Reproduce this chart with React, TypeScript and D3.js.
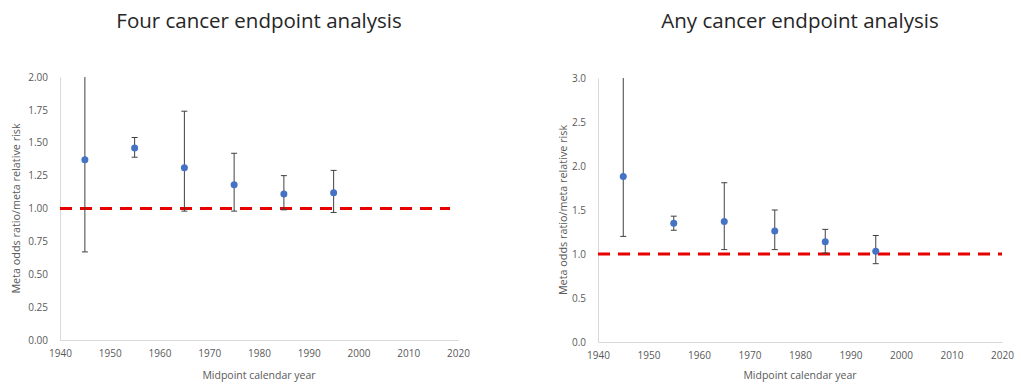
import React from "react";
import * as d3 from "d3";

// midpoint years of each decade
const years = [1945, 1955, 1965, 1975, 1985, 1995];

// four cancer endpoint analysis
const fourEstimate = [1.37, 1.46, 1.31, 1.18, 1.11, 1.12];
const fourLower = [0.67, 1.39, 0.98, 0.98, 0.99, 0.97];
const fourUpper = [2.0, 1.54, 1.74, 1.42, 1.25, 1.29];

// any cancer endpoint analysis
const anyEstimate = [1.88, 1.35, 1.37, 1.26, 1.14, 1.03];
const anyLower = [1.2, 1.27, 1.05, 1.05, 1.01, 0.89];
const anyUpper = [3.0, 1.43, 1.81, 1.5, 1.28, 1.21];

const xTicks = [1940, 1950, 1960, 1970, 1980, 1990, 2000, 2010, 2020];
const fourYTicks = [0, 0.25, 0.5, 0.75, 1, 1.25, 1.5, 1.75, 2];
const anyYTicks = [0, 0.5, 1, 1.5, 2, 2.5, 3];

const FONT = "'Open Sans', sans-serif";

type PanelProps = {
  title: string;
  left: number;
  right: number;
  top: number;
  bottom: number;
  yMax: number;
  yTicks: number[];
  yFormat: string;
  est: number[];
  lo: number[];
  hi: number[];
  labelX: number;
  refEnd: number;
};

const Panel = ({ title, left, right, top, bottom, yMax, yTicks, yFormat, est, lo, hi, labelX, refEnd }: PanelProps) => {
  const gRef = React.useRef<SVGGElement>(null);

  const x = d3.scaleLinear().domain([1940, 2020]).range([left, right]);
  const y = d3.scaleLinear().domain([0, yMax]).range([bottom, top]);

  React.useEffect(() => {
    const g = d3.select(gRef.current);
    g.selectAll("*").remove();

    const xAxis = g
      .append("g")
      .attr("transform", `translate(0,${bottom})`)
      .call(d3.axisBottom(x).tickValues(xTicks).tickSize(0).tickPadding(10).tickFormat(d3.format("d")));
    xAxis.select(".domain").attr("stroke", "#d9d9d9");

    const yAxis = g
      .append("g")
      .attr("transform", `translate(${left},0)`)
      .call(d3.axisLeft(y).tickValues(yTicks).tickSize(0).tickPadding(12).tickFormat(d3.format(yFormat)));
    yAxis.select(".domain").attr("stroke", "#d9d9d9");

    g.selectAll(".tick text")
      .attr("fill", "#595959")
      .attr("font-family", FONT)
      .attr("font-size", "10px");
  }, []);

  const cap = 3;

  return (
    <g>
      <text x={(left + right) / 2} y={28} textAnchor="middle" fontFamily={FONT} fontSize={20.5} fill="#262626">
        {title}
      </text>
      <g ref={gRef} />
      <line
        x1={x(1940)}
        x2={x(refEnd)}
        y1={y(1)}
        y2={y(1)}
        stroke="#e60000"
        strokeWidth={3}
        strokeDasharray="12,8"
      />
      {years.map((yr, i) => (
        <g key={yr} stroke="#404040" strokeWidth={1}>
          <line x1={x(yr)} x2={x(yr)} y1={y(lo[i])} y2={y(hi[i])} />
          <line x1={x(yr) - cap} x2={x(yr) + cap} y1={y(lo[i])} y2={y(lo[i])} />
          {hi[i] < yMax && <line x1={x(yr) - cap} x2={x(yr) + cap} y1={y(hi[i])} y2={y(hi[i])} />}
        </g>
      ))}
      {years.map((yr, i) => (
        <circle key={yr} cx={x(yr)} cy={y(est[i])} r={3.5} fill="#4472c4" />
      ))}
      <text x={(left + right) / 2} y={379} textAnchor="middle" fontFamily={FONT} fontSize={10.5} fill="#595959">
        Midpoint calendar year
      </text>
      <text
        transform={`translate(${labelX},${(top + bottom) / 2}) rotate(-90)`}
        textAnchor="middle"
        fontFamily={FONT}
        fontSize={10.8}
        fill="#595959"
      >
        Meta odds ratio/meta relative risk
      </text>
    </g>
  );
};

export default function App() {
  return (
    <svg width={1021} height={389} style={{ position: "absolute", left: 0, top: 0, background: "#fff" }}>
      <Panel
        title="Four cancer endpoint analysis"
        left={60}
        right={458}
        top={77}
        bottom={340}
        yMax={2}
        yTicks={fourYTicks}
        yFormat=".2f"
        est={fourEstimate}
        lo={fourLower}
        hi={fourUpper}
        labelX={20}
        refEnd={2018.4}
      />
      <Panel
        title="Any cancer endpoint analysis"
        left={598}
        right={1002}
        top={78}
        bottom={342}
        yMax={3}
        yTicks={anyYTicks}
        yFormat=".1f"
        est={anyEstimate}
        lo={anyLower}
        hi={anyUpper}
        labelX={567}
        refEnd={2020}
      />
    </svg>
  );
}
